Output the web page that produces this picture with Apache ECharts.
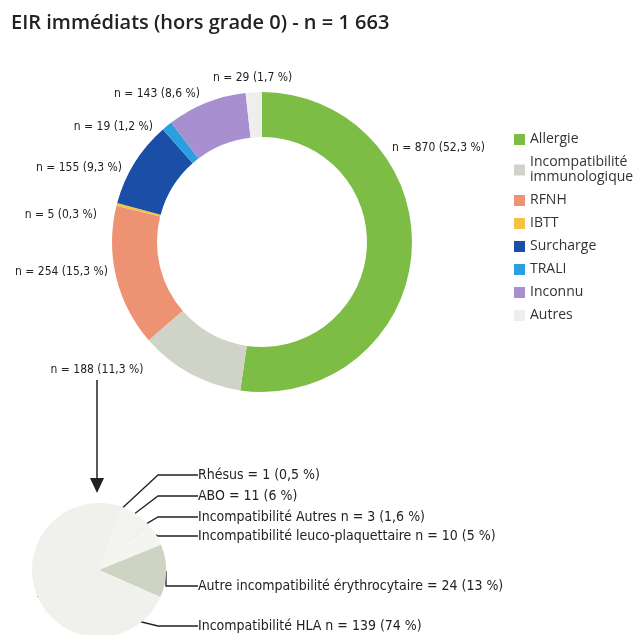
<!DOCTYPE html>
<html>
<head>
<meta charset="utf-8">
<script src="https://cdn.jsdelivr.net/npm/echarts@6/dist/echarts.min.js"></script>
<style>
  html, body { margin: 0; padding: 0; background: #fff; }
  #chart { width: 643px; height: 635px; }
</style>
</head>
<body>
<div id="chart"></div>
<script>
// données principales (EIR immédiats)
const donutNames = ['Allergie', 'Incompatibilité\nimmunologique', 'RFNH', 'IBTT', 'Surcharge', 'TRALI', 'Inconnu', 'Autres']
const donutValues = [870, 188, 254, 5, 155, 19, 143, 29]
const donutPct = ['52,3', '11,3', '15,3', '0,3', '9,3', '1,2', '8,6', '1,7']
const donutColors = ['#7dbd45', '#cfd3c8', '#ee9274', '#f4c244', '#1b4ea6', '#2b9fe0', '#a88fd0', '#eeeeec']

// détail incompatibilité immunologique (n = 188)
const detailNames = ['Rhésus = ', 'ABO = ', 'Incompatibilité Autres n = ', 'Incompatibilité leuco-plaquettaire n = ', 'Autre incompatibilité érythrocytaire = ', 'Incompatibilité HLA n = ']
const detailValues = [1, 11, 3, 10, 24, 139]
const detailPct = ['0,5', '6', '1,6', '5', '13', '74']
const detailColors = ['#f1f2ee', '#f3f4f0', '#f1f2ed', '#f4f5f1', '#cdd4c3', '#f0f1ec']

// position des étiquettes (x, y, alignement)
const donutLabelPos = [[392, 148, 'left'], [97, 370, 'center'], [108, 272, 'right'], [97, 215, 'right'],
  [122, 168, 'right'], [153, 127, 'right'], [200, 94, 'right'], [213, 78, 'left']]
const detailLabelY = [475, 496, 517, 536, 586, 626]

const narrow = "'Liberation Sans Narrow', 'DejaVu Sans Condensed', sans-serif"

const chart = echarts.init(document.getElementById('chart'))

chart.setOption({
  animation: false,
  title: {
    text: 'EIR immédiats (hors grade 0) - n = 1 663',
    left: 6,
    top: 8,
    textStyle: { fontFamily: 'Open Sans', fontSize: 20, fontWeight: 600, color: '#222' }
  },
  legend: {
    orient: 'vertical',
    left: 509,
    top: 127,
    itemWidth: 11,
    itemHeight: 11,
    itemGap: 8,
    icon: 'rect',
    data: donutNames,
    textStyle: { fontFamily: 'Open Sans', fontSize: 14, color: '#333', lineHeight: 15 }
  },
  graphic: [
    {
      type: 'line',
      shape: { x1: 97, y1: 380, x2: 97, y2: 480 },
      style: { stroke: '#222', lineWidth: 1.5 }
    },
    {
      type: 'polygon',
      shape: { points: [[90, 478], [104, 478], [97, 493]] },
      style: { fill: '#222' }
    }
  ],
  series: [
    {
      name: 'EIR',
      type: 'pie',
      center: [262, 242],
      radius: [105, 150],
      startAngle: 90,
      clockwise: true,
      avoidLabelOverlap: false,
      label: {
        show: true,
        position: 'outside',
        fontFamily: narrow,
        fontSize: 12,
        color: '#222',
        formatter: p => 'n = ' + p.value + ' (' + donutPct[p.dataIndex] + ' %)'
      },
      labelLine: { show: false },
      labelLayout: p => {
        const pos = donutLabelPos[p.dataIndex]
        return { x: pos[0], y: pos[1], align: pos[2], verticalAlign: 'middle' }
      },
      emphasis: { disabled: true },
      data: donutNames.map((n, i) => ({ name: n, value: donutValues[i], itemStyle: { color: donutColors[i] } }))
    },
    {
      name: 'Incompatibilité immunologique',
      type: 'pie',
      center: [99, 570],
      radius: 67,
      startAngle: 70,
      clockwise: true,
      avoidLabelOverlap: false,
      label: {
        show: true,
        position: 'outside',
        fontFamily: narrow,
        fontSize: 14,
        color: '#222',
        formatter: p => detailNames[p.dataIndex] + p.value + ' (' + detailPct[p.dataIndex] + ' %)'
      },
      labelLine: { show: true, length: 8, length2: 40, lineStyle: { color: '#222', width: 1.3 } },
      labelLayout: p => ({ x: 198, y: detailLabelY[p.dataIndex], align: 'left', verticalAlign: 'middle' }),
      emphasis: { disabled: true },
      data: detailNames.map((n, i) => ({ name: n, value: detailValues[i], itemStyle: { color: detailColors[i] } }))
    }
  ]
})
</script>
</body>
</html>
